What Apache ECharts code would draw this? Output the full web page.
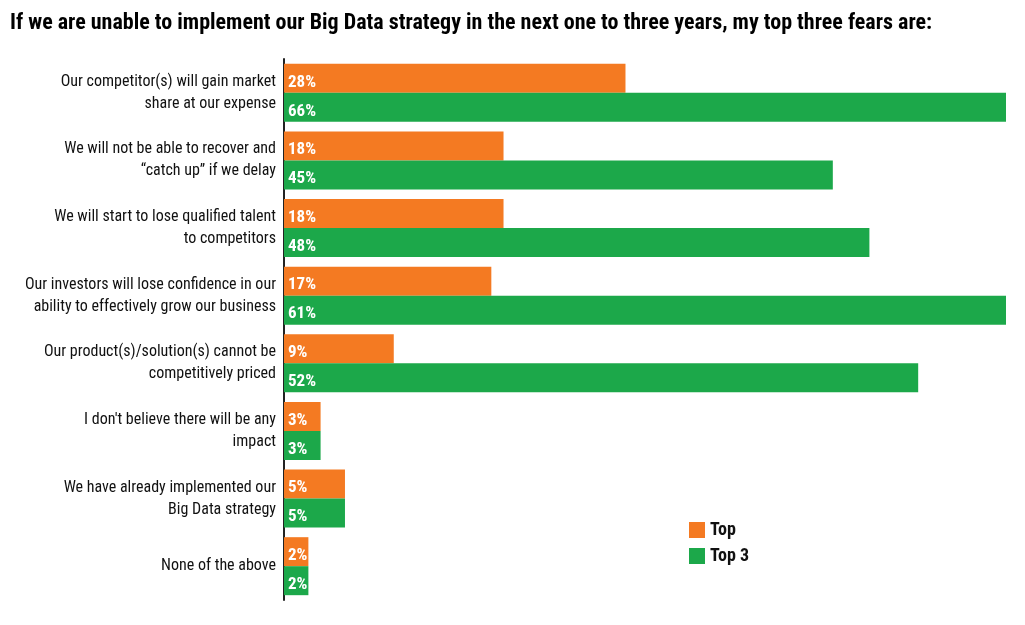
<!DOCTYPE html>
<html>
<head>
<meta charset="utf-8">
<script src="https://cdn.jsdelivr.net/npm/echarts@6/dist/echarts.min.js"></script>
<style>
  html, body { margin: 0; padding: 0; background: #fff; }
  #main { width: 1025px; height: 625px; }
</style>
</head>
<body>
<div id="main"></div>
<script>
var categories = [
  'Our competitor(s) will gain market\nshare at our expense',
  'We will not be able to recover and\n\u201ccatch up\u201d if we delay',
  'We will start to lose qualified talent\nto competitors',
  'Our investors will lose confidence in our\nability to effectively grow our business',
  'Our product(s)/solution(s) cannot be\ncompetitively priced',
  'I don\'t believe there will be any\nimpact',
  'We have already implemented our\nBig Data strategy',
  'None of the above'
];
var topValues = [28, 18, 18, 17, 9, 3, 5, 2];
var top3Values = [66, 45, 48, 61, 52, 3, 5, 2];

var font = '"Liberation Sans Narrow", "Arial Narrow", "Roboto Condensed", "Liberation Sans", sans-serif';

var chart = echarts.init(document.getElementById('main'), null, { renderer: 'canvas' });

var barLabel = {
  show: true,
  position: 'insideLeft',
  distance: 4,
  offset: [0, 4],
  formatter: '{c}%',
  color: '#fff',
  fontFamily: font,
  fontWeight: 'bold',
  fontSize: 17
};

var option = {
  animation: false,
  title: {
    text: 'If we are unable to implement our Big Data strategy in the next one to three years, my top three fears are:',
    left: 5,
    top: 7,
    textStyle: { fontFamily: font, fontWeight: 'bold', fontSize: 22, color: '#000' }
  },
  legend: {
    orient: 'vertical',
    left: 684,
    top: 516,
    itemWidth: 16,
    itemHeight: 16,
    itemGap: 8,
    icon: 'rect',
    textStyle: { fontFamily: font, fontWeight: 'bold', fontSize: 18, color: '#111' },
    data: ['Top', 'Top 3']
  },
  grid: { left: 284, right: 19, top: 59, bottom: 25, containLabel: false },
  xAxis: {
    type: 'value',
    min: 0,
    max: 59.2,
    show: false
  },
  yAxis: {
    type: 'category',
    inverse: true,
    data: categories,
    axisLine: { show: true, lineStyle: { color: '#222', width: 2 } },
    axisTick: { show: false },
    axisLabel: {
      margin: 8,
      fontFamily: font,
      fontSize: 16,
      lineHeight: 22,
      color: '#111',
      align: 'right'
    }
  },
  series: [
    {
      name: 'Top',
      type: 'bar',
      data: topValues,
      barWidth: 29,
      barGap: '0%',
      clip: true,
      itemStyle: { color: '#F47A22' },
      label: barLabel
    },
    {
      name: 'Top 3',
      type: 'bar',
      data: top3Values,
      barWidth: 29,
      barGap: '0%',
      clip: true,
      itemStyle: { color: '#1CA84A' },
      label: barLabel
    }
  ]
};

chart.setOption(option);
window.addEventListener('resize', chart.resize);
</script>
</body>
</html>
